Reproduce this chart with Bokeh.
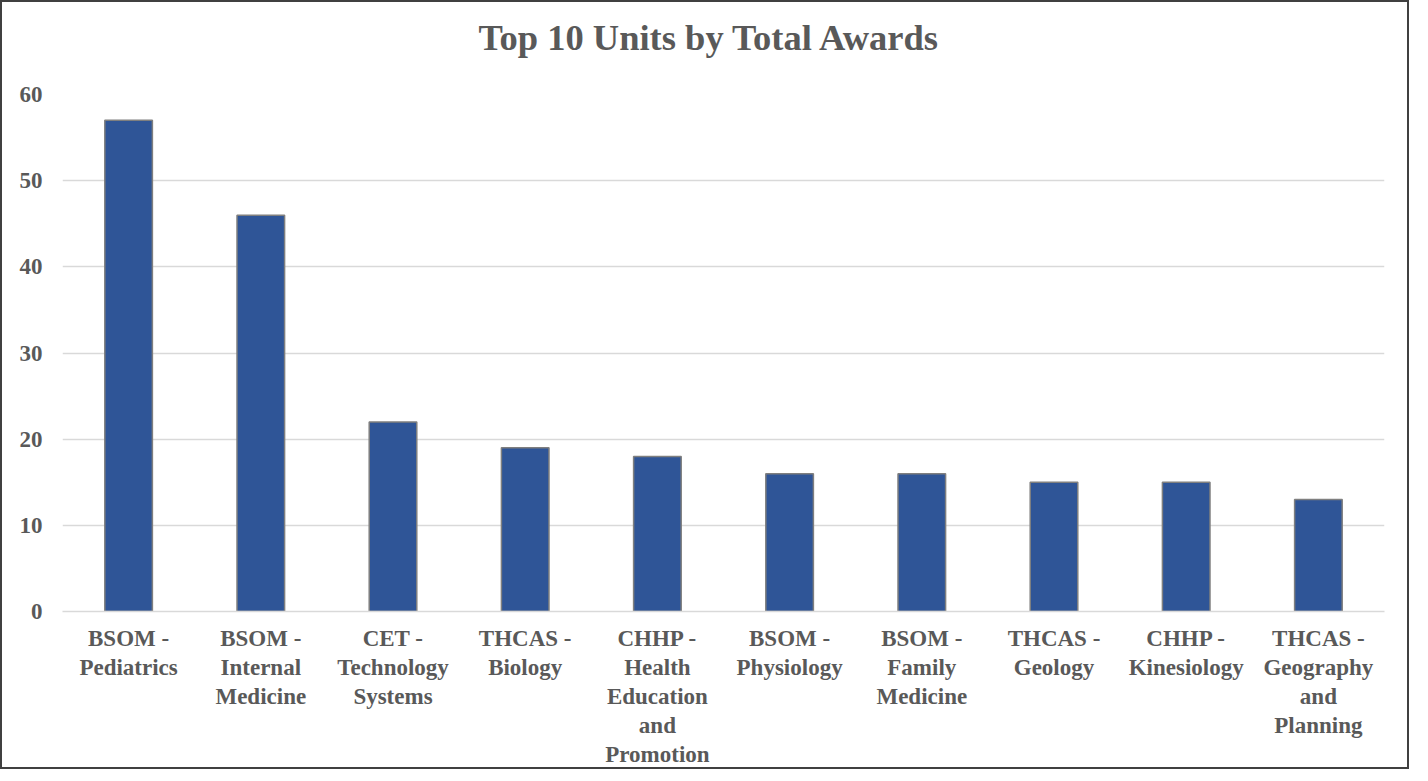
from bokeh.plotting import figure
from bokeh.models import ColumnDataSource, FixedTicker, Range1d, Title
from bokeh.embed import file_html
from bokeh.resources import INLINE

units = [
    "BSOM -\nPediatrics",
    "BSOM -\nInternal\nMedicine",
    "CET -\nTechnology\nSystems",
    "THCAS -\nBiology",
    "CHHP -\nHealth\nEducation\nand\nPromotion",
    "BSOM -\nPhysiology",
    "BSOM -\nFamily\nMedicine",
    "THCAS -\nGeology",
    "CHHP -\nKinesiology",
    "THCAS -\nGeography\nand\nPlanning",
]
awards = [57, 46, 22, 19, 18, 16, 16, 15, 15, 13]
y_ticks = [0, 10, 20, 30, 40, 50, 60]

TEXT = "#595959"
FONT = "Liberation Serif"

source = ColumnDataSource(data=dict(units=units, awards=awards))

p = figure(
    x_range=units,
    y_range=Range1d(0, 60),
    width=1409,
    height=769,
    output_backend="svg",
    toolbar_location=None,
    title="Top 10 Units by Total Awards",
    min_border_left=60,
    min_border_right=27,
    min_border_top=92,
    min_border_bottom=160,
)
p.styles = {"border": "2px solid #404040"}

# invisible spacer between the title and the plot area
p.add_layout(Title(text=" ", text_font_size="1px", standoff=34), "above")

p.vbar(x="units", top="awards", width=0.36, source=source,
       fill_color="#2F5597", line_color="#7F7F7F", line_width=1.5)

p.title.text_font = FONT
p.title.text_font_size = "36.5px"
p.title.text_font_style = "bold"
p.title.text_color = TEXT
p.title.align = "left"
p.title.standoff = 0
p.title.offset = 416

p.outline_line_color = None
p.background_fill_color = "white"
p.border_fill_color = "white"

p.xgrid.grid_line_color = None
p.ygrid.grid_line_color = "#D9D9D9"
p.ygrid.grid_line_width = 1.5
p.yaxis.ticker = FixedTicker(ticks=y_ticks)

p.yaxis.axis_line_color = None
p.yaxis.major_tick_line_color = None
p.yaxis.minor_tick_line_color = None
p.yaxis.major_label_text_font = FONT
p.yaxis.major_label_text_font_size = "23px"
p.yaxis.major_label_text_font_style = "bold"
p.yaxis.major_label_text_color = TEXT
p.yaxis.major_label_standoff = 14

p.xaxis.axis_line_color = "#D9D9D9"
p.xaxis.axis_line_width = 1.5
p.xaxis.major_tick_line_color = None
p.xaxis.minor_tick_line_color = None
p.xaxis.major_label_text_font = FONT
p.xaxis.major_label_text_font_size = "23px"
p.xaxis.major_label_text_font_style = "bold"
p.xaxis.major_label_text_color = TEXT
p.xaxis.major_label_text_line_height = 1.16
p.xaxis.major_label_standoff = 8
p.x_range.range_padding = 0

open("out.html", "w").write(file_html(p, INLINE))
